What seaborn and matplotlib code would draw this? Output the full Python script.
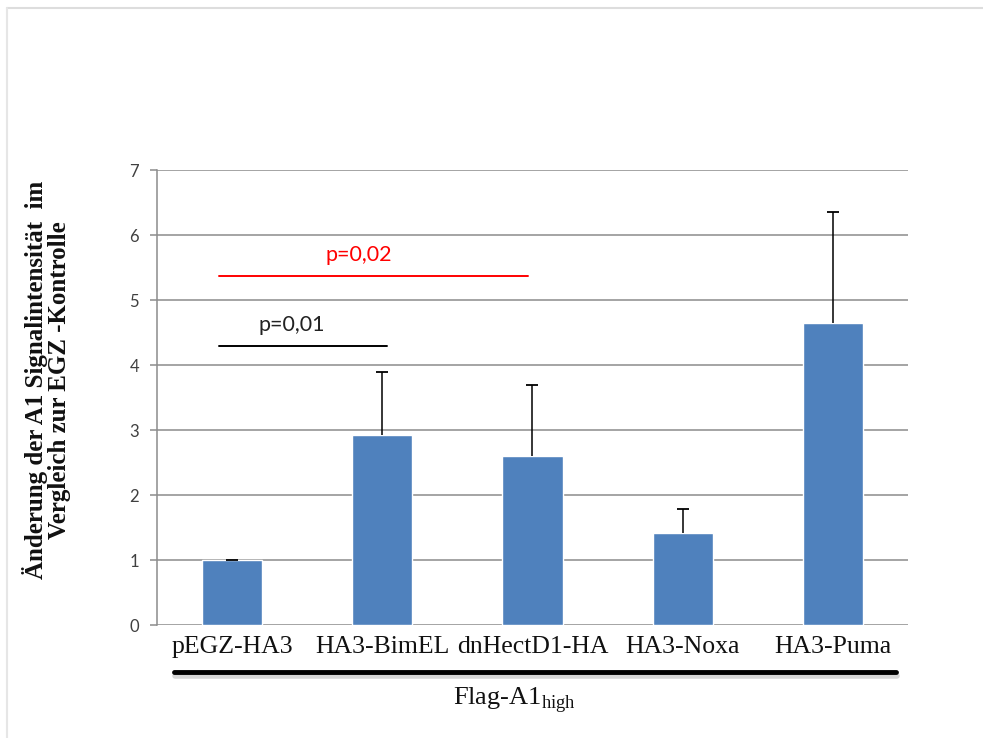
import pandas as pd
import seaborn as sns
import matplotlib.pyplot as plt
from matplotlib.lines import Line2D

# Daten
kategorien = ['pEGZ-HA3', 'HA3-BimEL', 'dnHectD1-HA', 'HA3-Noxa', 'HA3-Puma']
mittelwerte = [1.0, 2.92, 2.60, 1.41, 4.64]
fehler = [0.0, 0.98, 1.10, 0.37, 1.72]
y_ticks = [0, 1, 2, 3, 4, 5, 6, 7]

# Signifikanz-Linien
sig_start = [-0.09, -0.09]
sig_ende = [1.03, 1.97]
sig_y = [4.29, 5.37]
sig_text = ['p=0,01', 'p=0,02']
sig_text_x = [0.40, 0.84]
sig_farbe = ['black', 'red']

df = pd.DataFrame({'kategorie': kategorien, 'wert': mittelwerte})

sns.set_style('white')
plt.rcParams['font.family'] = ['Liberation Serif', 'DejaVu Serif']

fig = plt.figure(figsize=(9.83, 7.38), dpi=100)
ax = fig.add_axes([0.1597, 0.1531, 0.764, 0.6165])

sns.barplot(data=df, x='kategorie', y='wert', color='#4F81BD', width=0.4,
            saturation=1, errorbar=None, ax=ax)

# nur obere Fehlerbalken
_, caps, _ = ax.errorbar(range(len(kategorien)), mittelwerte,
                         yerr=[[0] * len(fehler), fehler],
                         fmt='none', ecolor='black', elinewidth=1.1, capsize=4,
                         capthick=1.3, zorder=3)
caps[0].set_visible(False)

ax.set_ylim(0, 7)
ax.set_xlim(-0.5, 4.5)
ax.set_yticks(y_ticks)
ax.set_yticklabels([str(t) for t in y_ticks], family=['Lato', 'DejaVu Sans'],
                   fontsize=12, color='#404040')
ax.yaxis.grid(True, color='#8c8c8c', linewidth=1.1)
ax.set_axisbelow(True)
for s in ['top', 'right', 'bottom']:
    ax.spines[s].set_visible(False)
ax.spines['left'].set_color('#8c8c8c')
ax.spines['left'].set_linewidth(1.1)
ax.tick_params(axis='y', length=5, width=1.1, color='#8c8c8c', pad=8, left=True)
ax.tick_params(axis='x', length=0, pad=8)
for lbl in ax.get_xticklabels():
    lbl.set_fontsize(18.5)
    lbl.set_color('#111111')
ax.set_xlabel('')
ax.set_ylabel('')

# Signifikanz
for x0, x1, y, t, tx, c in zip(sig_start, sig_ende, sig_y, sig_text, sig_text_x, sig_farbe):
    ax.plot([x0, x1], [y, y], color=c, linewidth=1.4, zorder=4)
    ax.text(tx, y + 0.17, t, color=c if c == 'red' else '#222222', fontsize=15.5,
            family=['Lato', 'DejaVu Sans'], ha='center', va='bottom')

# dicke Linie unter den Kategorien (mit Schatten)
fig.add_artist(Line2D([175 / 983, 897 / 983], [1 - 676 / 738, 1 - 676 / 738],
                      color='#bbbbbb', linewidth=4, alpha=0.6))
fig.add_artist(Line2D([174 / 983, 896 / 983], [1 - 672 / 738, 1 - 672 / 738],
                      color='black', linewidth=3.5))
fig.text(514 / 983, 1 - 700 / 738, r'Flag-A1$_{\mathregular{high}}$', fontsize=19,
         ha='center', va='center', color='#111111')

# y-Achsenbeschriftung
fig.text(47 / 983, 1 - 380 / 738,
         'Änderung der A1 Signalintensität  im\nVergleich zur EGZ -Kontrolle',
         rotation=90, ha='center', va='center', fontsize=18, fontweight='bold',
         linespacing=1.0, color='#111111')

# heller Rahmen
fig.add_artist(Line2D([7 / 983, 1.0], [1 - 8 / 738, 1 - 8 / 738], color='#dddddd', linewidth=1.5))
fig.add_artist(Line2D([7 / 983, 7 / 983], [1 - 8 / 738, 0.0], color='#e6e6e6', linewidth=1.5))

fig.savefig('out.png', dpi=100)
